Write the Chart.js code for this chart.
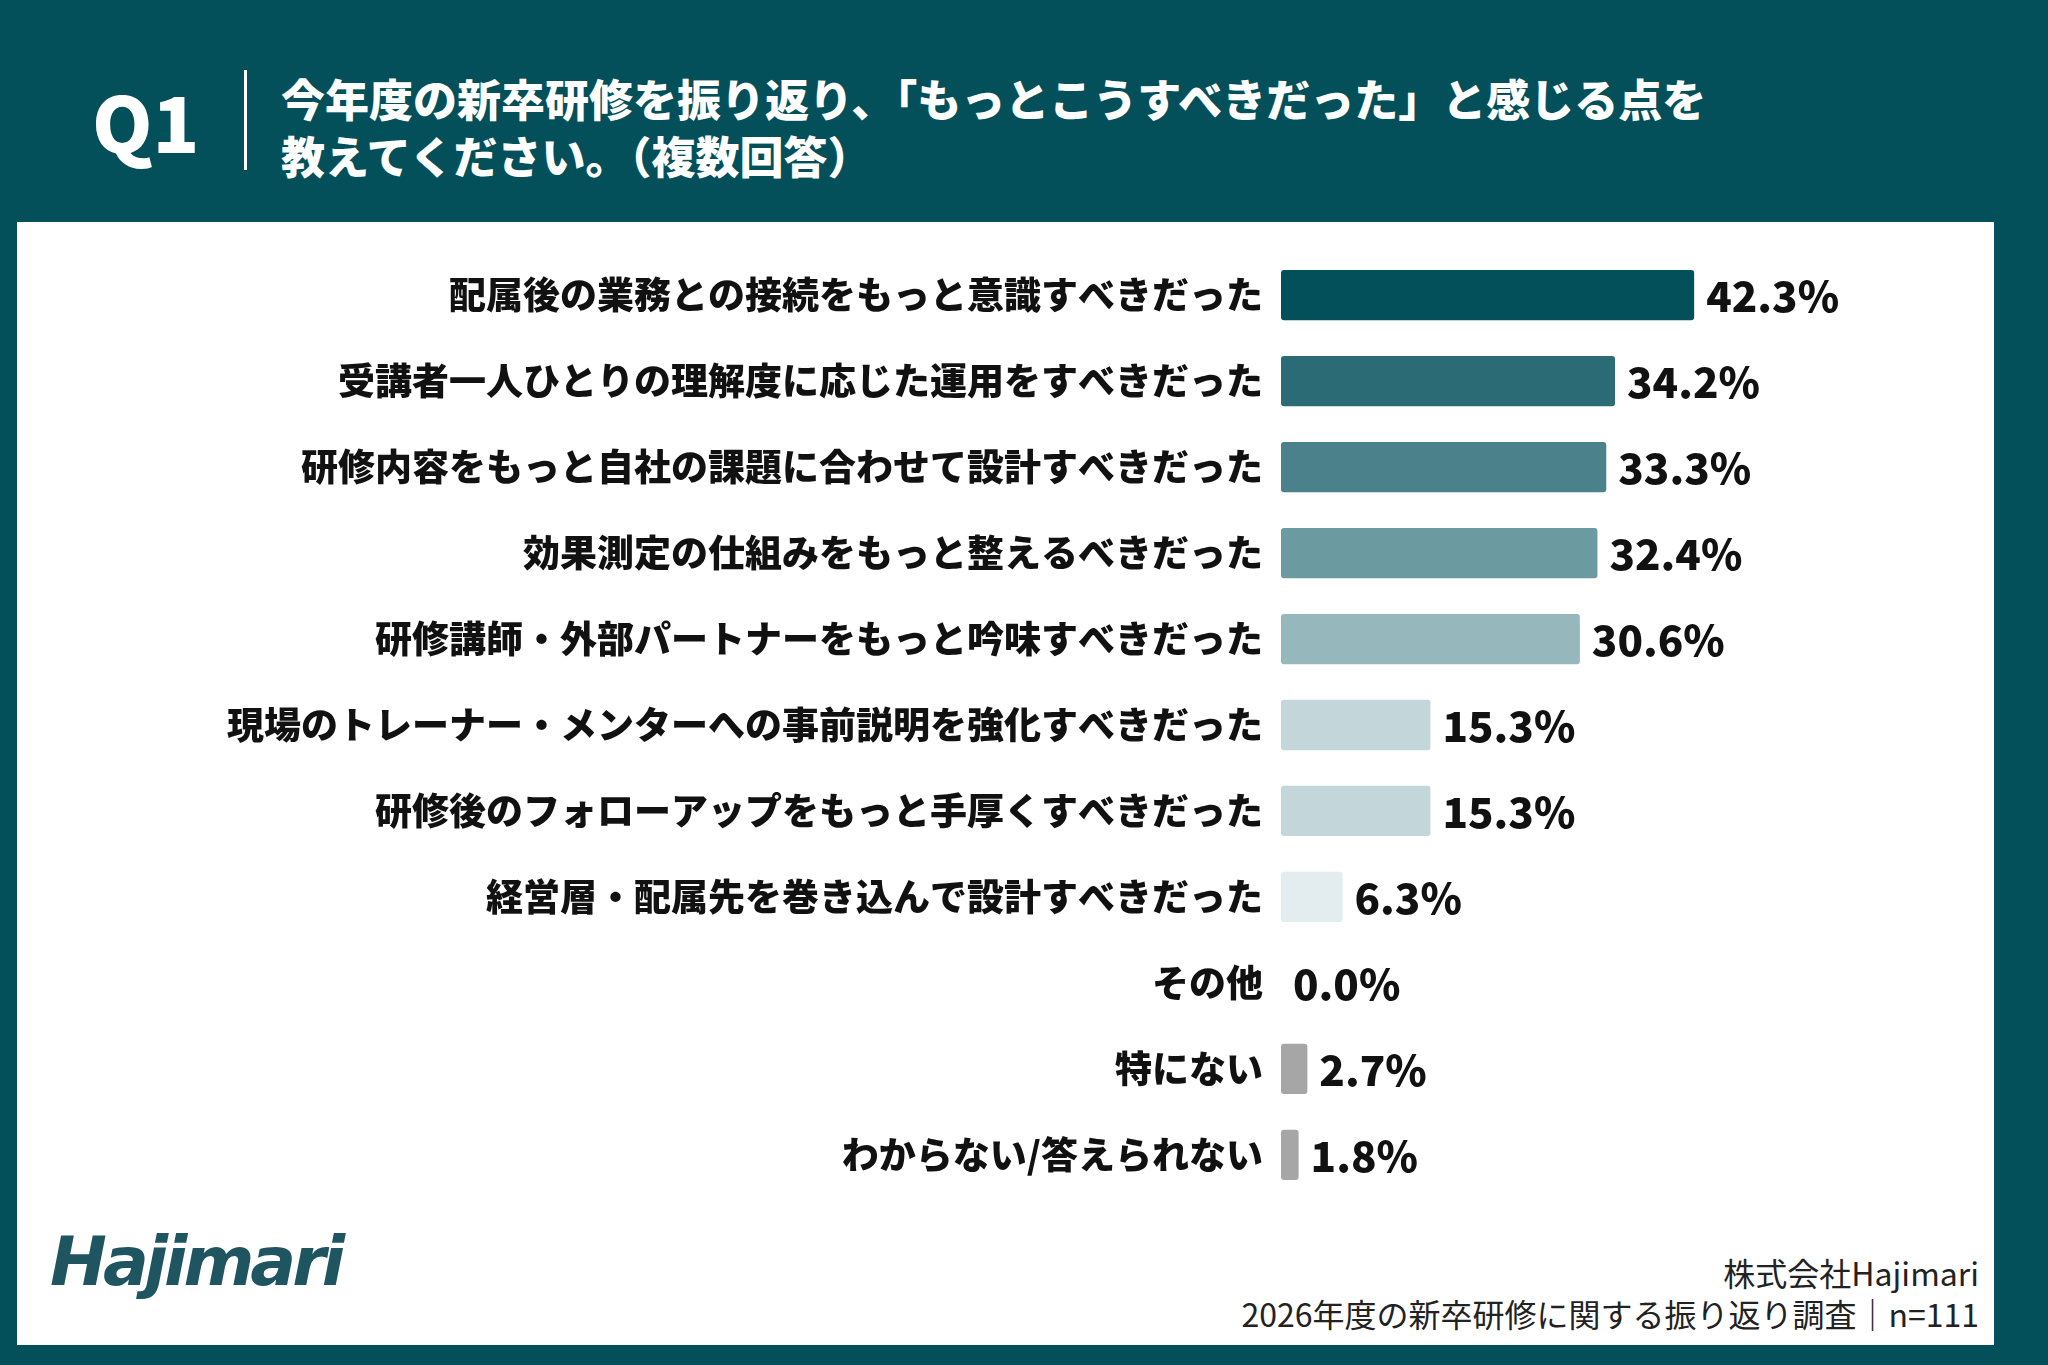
<!DOCTYPE html>
<html><head><meta charset="utf-8">
<script src="https://cdn.jsdelivr.net/npm/chart.js@4"></script>
<style>
body{margin:0;width:2048px;height:1365px;background:#03505a;position:relative;overflow:hidden;font-family:"Noto Sans CJK JP",sans-serif;}
#q{position:absolute;left:92px;top:70px;color:#fff;font:900 77px "Noto Sans CJK JP";line-height:100px;}
#vl{position:absolute;left:244px;top:70px;width:3px;height:100px;background:#fff;}
#t{position:absolute;left:281px;top:70px;color:#fff;font:900 44px "Noto Sans CJK JP";line-height:57px;}
#panel{position:absolute;left:17px;top:222px;width:1977px;height:1123px;background:#fff;}
#wrap{position:absolute;left:17px;top:220px;width:1977px;height:1010px;}
#logo{position:absolute;left:50px;top:1222px;color:#1f5560;font:italic 700 68px "DejaVu Sans",sans-serif;letter-spacing:-4px;}
#f1,#f2{position:absolute;right:69px;color:#222;font:400 32px "Noto Sans CJK JP";}
#f1{top:1249px}#f2{top:1290px}
</style></head><body>
<div id="q">Q1</div><div id="vl"></div>
<div id="t">今年度の新卒研修を振り返り、「もっとこうすべきだった」と感じる点を<br>教えてください。（複数回答）</div>
<div id="panel"></div>
<div id="wrap"><canvas id="c"></canvas></div>
<div id="logo">Hajimari</div>
<div id="f1">株式会社Hajimari</div>
<div id="f2">2026年度の新卒研修に関する振り返り調査｜n=111</div>
<script>
const categories=["配属後の業務との接続をもっと意識すべきだった","受講者一人ひとりの理解度に応じた運用をすべきだった","研修内容をもっと自社の課題に合わせて設計すべきだった","効果測定の仕組みをもっと整えるべきだった","研修講師・外部パートナーをもっと吟味すべきだった","現場のトレーナー・メンターへの事前説明を強化すべきだった","研修後のフォローアップをもっと手厚くすべきだった","経営層・配属先を巻き込んで設計すべきだった","その他","特にない","わからない/答えられない"];
const values=[42.3,34.2,33.3,32.4,30.6,15.3,15.3,6.3,0.0,2.7,1.8];
const colors=["#03505a","#2a6b75","#4a818a","#6b9aa1","#96b8bc","#c3d6d9","#c3d6d9","#e3ecee","#e3ecee","#a6a6a6","#a6a6a6"];
const labelPlugin={id:'vals',afterDatasetsDraw(ch){const ctx=ch.ctx;const meta=ch.getDatasetMeta(0);ctx.save();ctx.font='900 42px "Noto Sans CJK JP"';ctx.fillStyle='#111';ctx.textBaseline='middle';
meta.data.forEach((b,i)=>{ctx.fillText(values[i].toFixed(1)+'%',b.x+12,b.y+1);});ctx.restore();}};
new Chart(document.getElementById('c'),{type:'bar',data:{labels:categories,datasets:[{data:values,backgroundColor:colors,borderRadius:3,borderSkipped:false,barPercentage:0.585,categoryPercentage:1}]},
options:{indexAxis:'y',responsive:true,maintainAspectRatio:false,animation:false,layout:{padding:0},
plugins:{legend:{display:false},tooltip:{enabled:false}},
scales:{x:{display:false,min:0,max:73},y:{border:{display:false},grid:{display:false},ticks:{color:'#111',padding:10,font:{family:'"Noto Sans CJK JP"',weight:'900',size:37}},afterFit(s){s.width=1264;}}}},plugins:[labelPlugin]});
</script></body></html>
